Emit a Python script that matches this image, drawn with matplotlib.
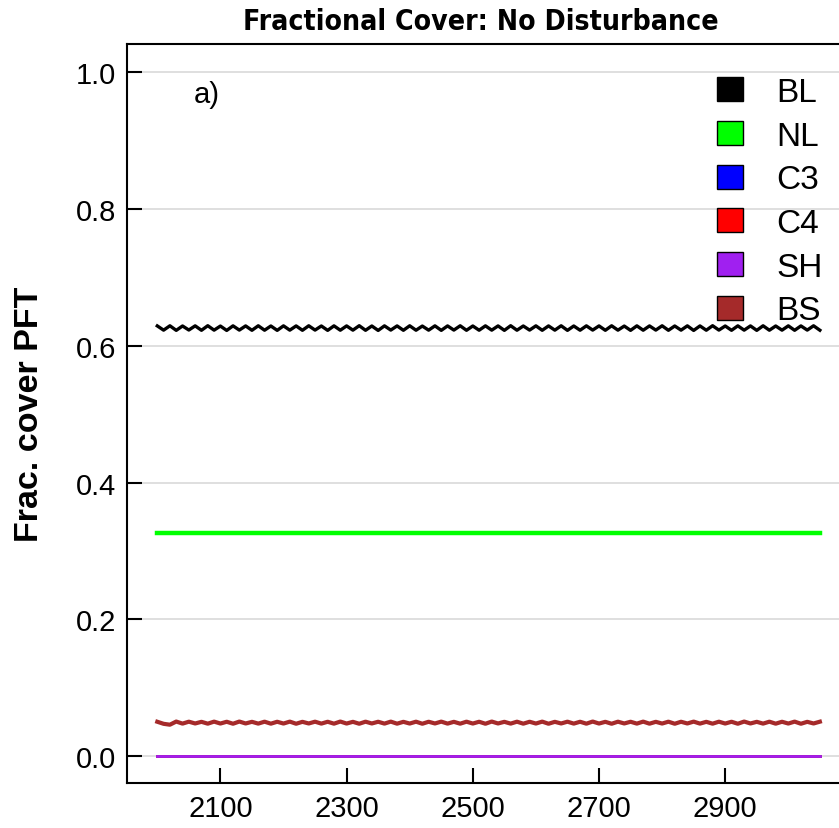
import matplotlib
matplotlib.use("Agg")
import matplotlib.pyplot as plt
from matplotlib.patches import Patch
import numpy as np

# years sampled every 10 yr
years = np.arange(2000, 3051, 10)

bl = [0.6290, 0.6228, 0.6292, 0.6225, 0.6289, 0.6230, 0.6291, 0.6226, 0.6293, 0.6228,
      0.6288, 0.6224, 0.6291, 0.6229, 0.6290, 0.6226, 0.6292, 0.6227, 0.6289, 0.6225,
      0.6291, 0.6228, 0.6290, 0.6226, 0.6292, 0.6229, 0.6289, 0.6225, 0.6291, 0.6227,
      0.6290, 0.6228, 0.6293, 0.6226, 0.6289, 0.6224, 0.6291, 0.6229, 0.6290, 0.6226,
      0.6292, 0.6227, 0.6288, 0.6228, 0.6291, 0.6225, 0.6290, 0.6229, 0.6292, 0.6226,
      0.6289, 0.6227, 0.6291, 0.6228, 0.6290, 0.6225, 0.6293, 0.6227, 0.6289, 0.6229,
      0.6291, 0.6226, 0.6290, 0.6228, 0.6292, 0.6225, 0.6289, 0.6227, 0.6291, 0.6229,
      0.6290, 0.6226, 0.6292, 0.6228, 0.6288, 0.6225, 0.6291, 0.6227, 0.6290, 0.6229,
      0.6292, 0.6226, 0.6289, 0.6228, 0.6291, 0.6224, 0.6290, 0.6227, 0.6293, 0.6229,
      0.6289, 0.6226, 0.6291, 0.6228, 0.6290, 0.6225, 0.6292, 0.6227, 0.6289, 0.6228,
      0.6291, 0.6226, 0.6290, 0.6229, 0.6292, 0.6227]

nl = [0.3270] * len(years)

bs = [0.0505, 0.0475, 0.0462, 0.0508, 0.0478, 0.0506, 0.0480, 0.0504, 0.0477, 0.0507,
      0.0479, 0.0505, 0.0476, 0.0508, 0.0480, 0.0504, 0.0478, 0.0506, 0.0477, 0.0505,
      0.0479, 0.0507, 0.0476, 0.0504, 0.0480, 0.0506, 0.0478, 0.0505, 0.0477, 0.0508,
      0.0479, 0.0504, 0.0476, 0.0506, 0.0480, 0.0505, 0.0478, 0.0507, 0.0477, 0.0504,
      0.0479, 0.0506, 0.0476, 0.0505, 0.0480, 0.0507, 0.0478, 0.0504, 0.0477, 0.0506,
      0.0479, 0.0505, 0.0476, 0.0508, 0.0480, 0.0504, 0.0478, 0.0506, 0.0477, 0.0505,
      0.0479, 0.0507, 0.0476, 0.0504, 0.0480, 0.0506, 0.0478, 0.0505, 0.0477, 0.0508,
      0.0479, 0.0504, 0.0476, 0.0506, 0.0480, 0.0505, 0.0478, 0.0507, 0.0477, 0.0504,
      0.0479, 0.0506, 0.0476, 0.0505, 0.0480, 0.0507, 0.0478, 0.0504, 0.0477, 0.0506,
      0.0479, 0.0505, 0.0476, 0.0508, 0.0480, 0.0504, 0.0478, 0.0506, 0.0477, 0.0505,
      0.0479, 0.0507, 0.0476, 0.0504, 0.0480, 0.0506]

c3 = [0.0] * len(years)
c4 = [0.0] * len(years)
sh = [0.0] * len(years)

labels = ["BL", "NL", "C3", "C4", "SH", "BS"]
colors = ["black", "#00ff00", "#0000ff", "#ff0000", "#a020f0", "#a52a2a"]

plt.rcParams['font.family'] = ['Liberation Sans', 'DejaVu Sans']

fig = plt.figure(figsize=(8.39, 8.29), dpi=100)
ax = fig.add_axes([127/839, (829-784)/829, 720/839, 739/829])

ax.plot(years, c3, color=colors[2], lw=2)
ax.plot(years, c4, color=colors[3], lw=2)
ax.plot(years, sh, color=colors[4], lw=2)
ax.plot(years, bs, color=colors[5], lw=3)
ax.plot(years, nl, color=colors[1], lw=3.2)
ax.plot(years, bl, color=colors[0], lw=2.4)

ax.set_xlim(1952, 3093)
ax.set_ylim(-0.039, 1.041)
ax.set_xticks([2100, 2300, 2500, 2700, 2900])
ax.set_yticks([0.0, 0.2, 0.4, 0.6, 0.8, 1.0])
ax.set_yticklabels(["0.0", "0.2", "0.4", "0.6", "0.8", "1.0"])
ax.tick_params(direction='in', length=11, width=1.5, labelsize=21, pad=8)
ax.grid(axis='y', color='#d9d9d9', lw=1.2)
ax.set_axisbelow(True)
for s in ['left', 'bottom', 'top']:
    ax.spines[s].set_linewidth(1.5)
ax.spines['right'].set_visible(False)

ax.text(2079, 0.968, "a)", fontsize=21, ha='center', va='center')

handles = [Patch(facecolor=c, edgecolor='black', lw=1) for c in colors]
ax.legend(handles, labels, loc='upper left', bbox_to_anchor=(717/839, 1 - 78/829),
          bbox_transform=fig.transFigure, frameon=False, fontsize=24,
          handlelength=0.78, handleheight=0.72, handletextpad=1.0,
          labelspacing=0.38, borderaxespad=0, borderpad=0)

ax.set_ylabel("Frac. cover PFT", fontsize=24.5, fontweight='bold', labelpad=22)
fig.text(481/839, 1 - 22/829, "Fractional Cover: No Disturbance",
         family='DejaVu Sans', fontstretch='condensed', fontweight='bold',
         fontsize=20.3, ha='center', va='center')

fig.savefig("out.png", dpi=100)
